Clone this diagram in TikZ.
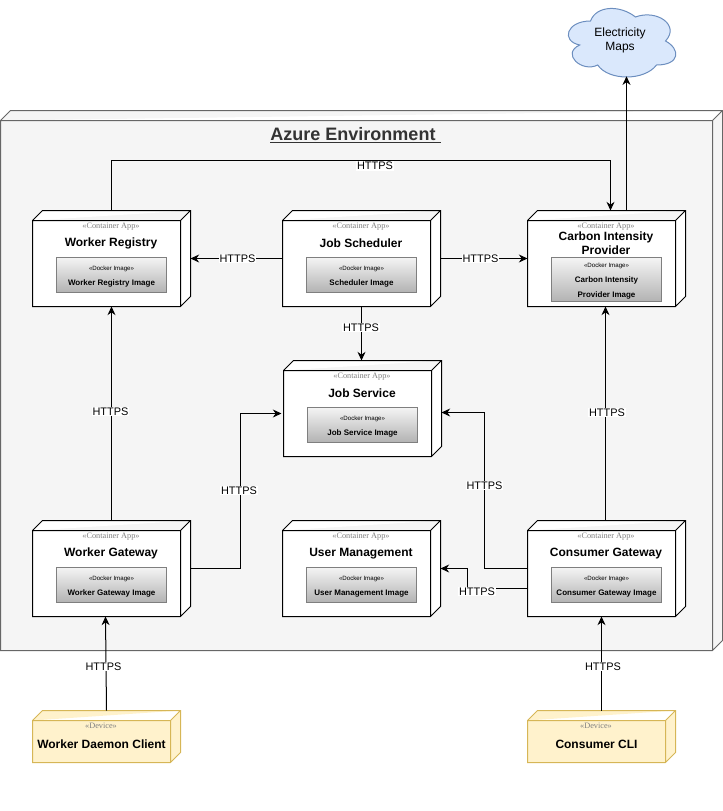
\documentclass[tikz,border=0pt]{standalone}
\usepackage{fontspec}
\setmainfont{Liberation Sans}
\newfontfamily\stereofont{Liberation Serif}
\usepackage{tikz}
\usetikzlibrary{
    arrows.meta,
    positioning,
    calc
}

\newcommand{\imgtag}{{\mdseries\fontsize{4.6}{11}\selectfont\rule{0pt}{6.5pt}«Docker Image»}}

\tikzset{
    threed/.style 2 args={
        inner sep=0pt, outer sep=0pt,
        append after command={
            \pgfextra{
                \let\boxnode\tikzlastnode
                \draw[fill=#1, draw=#2, line width=0.75pt]
                    (\boxnode.south west) -- ([yshift=-7.5pt]\boxnode.north west) -- ([xshift=7.5pt]\boxnode.north west)
                    -- (\boxnode.north east) -- ([yshift=7.5pt]\boxnode.south east) -- ([xshift=-7.5pt]\boxnode.south east) -- cycle
                    ([yshift=-7.5pt]\boxnode.north west) -- ([shift={(-7.5pt,-7.5pt)}]\boxnode.north east) -- (\boxnode.north east)
                    ([shift={(-7.5pt,-7.5pt)}]\boxnode.north east) -- ([xshift=-7.5pt]\boxnode.south east);
            }
        }
    },
    appbox/.style={threed={white}{black}, minimum width=118.5pt, minimum height=72pt},
    devicebox/.style={threed={deviceFill}{deviceLine}, minimum width=111pt, minimum height=39pt},
    imagebox/.style={draw=imageLine, line width=0.75pt, top color=imageTop, bottom color=imageBottom,
        minimum width=82.5pt, inner sep=0pt, align=center, font=\fontsize{6}{11}\selectfont\bfseries},
    stereotype/.style={font=\stereofont\fontsize{6.2}{7}\selectfont, text=stereoText, inner sep=0pt},
    boxtitle/.style={font=\fontsize{9}{10.5}\selectfont\bfseries, align=center, inner sep=0pt},
    conn/.style={-{Stealth[length=6.5pt, width=6pt]}, line width=0.75pt},
    httpslabel/.style={font=\fontsize{8.2}{10}\selectfont, fill=white, inner sep=0.6pt}
}

\begin{document}
\begin{tikzpicture}[x=0.75pt, y=-0.75pt]

\definecolor{azureFill}{HTML}{F5F5F5}
\definecolor{azureLine}{HTML}{666666}
\definecolor{deviceFill}{HTML}{FFF2CC}
\definecolor{deviceLine}{HTML}{D6B656}
\definecolor{cloudFill}{HTML}{DAE8FC}
\definecolor{cloudLine}{HTML}{6C8EBF}
\definecolor{imageLine}{HTML}{7F7F7F}
\definecolor{imageTop}{HTML}{F5F5F5}
\definecolor{imageBottom}{HTML}{B3B3B3}
\definecolor{stereoText}{HTML}{808080}

\useasboundingbox (0,0) rectangle (723,811);

% Azure environment
\node[threed={azureFill}{azureLine}, minimum width=541.5pt, minimum height=405pt] (azure) at (361.5,380.5) {};
\node[font=\fontsize{13.5}{16}\selectfont\bfseries, text=black!80, inner sep=0pt] (azureTitle) at (355.5,135.5) {\underline{Azure Environment\ }};

% Electricity Maps cloud
\begin{scope}[shift={(560.5,1)}, xscale=0.96]
\draw[fill=cloudFill, draw=cloudLine, line width=0.75pt]
    (31.25,20) .. controls (6.25,20) and (0,40) .. (20,44)
    .. controls (0,52.8) and (22.5,72) .. (38.75,64)
    .. controls (50,80) and (87.5,80) .. (100,64)
    .. controls (125,64) and (125,48) .. (109.4,40)
    .. controls (125,24) and (100,8) .. (78.1,16)
    .. controls (62.5,4) and (37.5,4) .. (31.25,20) -- cycle;
\end{scope}
\node[font=\fontsize{9}{10.5}\selectfont, align=center, minimum width=81pt, minimum height=54pt, inner sep=0pt] (electricity) at (620,40) {Electricity\\Maps};

% Container apps
\foreach \name/\x/\y/\title/\imgh/\img in {
    workerRegistry/111.5/258.5/{Worker Registry}/26.25pt/{Worker Registry Image},
    jobScheduler/361.5/258.5/{Job Scheduler}/26.25pt/{Scheduler Image},
    carbonProvider/606.5/258.5/{Carbon Intensity\\Provider}/33pt/{Carbon Intensity\\Provider Image},
    jobService/362.5/408.5/{Job Service}/26.25pt/{Job Service Image},
    workerGateway/111.5/568.5/{Worker Gateway}/26.25pt/{Worker Gateway Image},
    userManagement/361.5/568.5/{User Management}/26.25pt/{User Management Image},
    consumerGateway/606.5/568.5/{Consumer Gateway}/26.25pt/{Consumer Gateway Image}} {
    \node[appbox] (\name) at (\x,\y) {};
    \node[stereotype] (\name Tag) at ($(\name.north)+(-0.5,16.5)$) {«Container App»};
    \node[boxtitle] (\name Title) at ($(\name.north)+(-0.5,33)$) {\title};
    \node[imagebox, anchor=north, minimum height=\imgh] (\name Image) at ($(\name.north)+(0,46)$) {\imgtag\\\img};
}

% Devices
\foreach \name/\x/\title in {workerDaemon/106.5/Worker Daemon Client, consumerCli/601.5/Consumer CLI} {
    \node[devicebox] (\name) at (\x,736.5) {};
    \node[stereotype] (\name Tag) at ($(\name.north)+(-5.5,15.5)$) {«Device»};
    \node[boxtitle] (\name Title) at ($(\name.north)+(-5,33.5)$) {\title};
}

% Connectors
\coordinate (userBend) at (467.5,568.5);
\draw[conn] (workerRegistry.north) -- ++(0,-50) -| ([xshift=3pt]carbonProvider.north);
\draw[conn] (jobScheduler.west) -- (workerRegistry.east);
\draw[conn] (jobScheduler.east) -- (carbonProvider.west);
\draw[conn] (jobScheduler.south) -- (jobScheduler.south |- jobService.north);
\draw[conn] (workerGateway.north) -- (workerRegistry.south);
\draw[conn] (workerGateway.east) -- ++(50,0) |- ([shift={(-1.5pt,-3.75pt)}]jobService.west);
\draw[conn] (consumerGateway.west) -- ++(-43,0) |- ([yshift=-3pt]jobService.east);
\draw[conn] ([yshift=-15pt]consumerGateway.west) -| (userBend) -- (userManagement.east);
\draw[conn] ([xshift=-0.75pt]consumerGateway.north) -- ([xshift=-0.75pt]carbonProvider.south);
\draw[conn] ([xshift=15pt]carbonProvider.north) -- ([xshift=15pt]carbonProvider.north |- electricity.south);
\draw[conn] (workerDaemon.north) -- ([xshift=-4.5pt]workerGateway.south);
\draw[conn] (consumerCli.north) -- (consumerCli.north |- consumerGateway.south);

% HTTPS labels
\foreach \name/\x/\y in {topLabel/375/166, registryLabel/237.5/258.5, carbonLabel/480.5/258.5, serviceLabel/361/327.5,
    workerLabel/110.5/411.5, gatewayLabel/239/490.5, consumerLabel/484.5/485.5, userLabel/477/591.5,
    providerLabel/607/412.5, daemonLabel/103.5/666.5, cliLabel/603/666.5} {
    \node[httpslabel] (\name) at (\x,\y) {HTTPS};
}

\end{tikzpicture}
\end{document}
